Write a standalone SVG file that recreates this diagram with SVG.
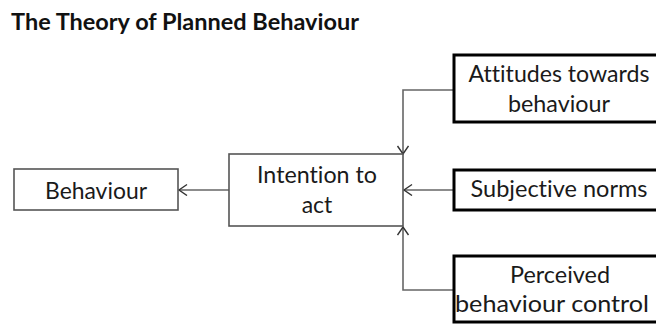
<svg xmlns="http://www.w3.org/2000/svg" width="656" height="326" viewBox="0 0 656 326">
<defs>
<style>
text{font-family:Lato,"Open Sans","Liberation Sans",sans-serif;font-size:23px;fill:#1a1a1a;text-anchor:middle;font-variant-ligatures:none;font-feature-settings:"liga" 0,"clig" 0}
.title{font-weight:bold;text-anchor:start;fill:#111}
.thin{fill:#fff;stroke:#555;stroke-width:1.6}
.thick{fill:#fff;stroke:#000;stroke-width:3}
.conn{fill:none;stroke:#666;stroke-width:1.6}
</style>
<marker id="arr" markerUnits="userSpaceOnUse" markerWidth="12" markerHeight="14" refX="9" refY="6" orient="auto">
<path d="M1,0.5 L9,6 L1,11.5" fill="none" stroke="#333" stroke-width="1.4"/>
</marker>
</defs>
<rect width="656" height="326" fill="#fff"/>
<text class="title" x="11" y="30" textLength="348" lengthAdjust="spacingAndGlyphs">The Theory of Planned Behaviour</text>
<g id="connectors">
<polyline class="conn" points="454,90 403,90 403,154" marker-end="url(#arr)"/>
<polyline class="conn" points="454,190 404,190" marker-end="url(#arr)"/>
<polyline class="conn" points="454,290 403,290 403,227" marker-end="url(#arr)"/>
<polyline class="conn" points="229,190 179,190" marker-end="url(#arr)"/>
</g>
<g id="behaviour">
<rect class="thin" x="14" y="169" width="164" height="41"/>
<text x="96" y="199" textLength="102" lengthAdjust="spacingAndGlyphs">Behaviour</text>
</g>
<g id="intention">
<rect class="thin" x="229" y="154" width="174" height="72"/>
<text x="317" y="183" textLength="120" lengthAdjust="spacingAndGlyphs">Intention to</text>
<text x="317" y="213">act</text>
</g>
<g id="attitudes">
<rect class="thick" x="454" y="55" width="214" height="67"/>
<text x="559" y="82" textLength="181" lengthAdjust="spacingAndGlyphs">Attitudes towards</text>
<text x="559" y="112" textLength="102" lengthAdjust="spacingAndGlyphs">behaviour</text>
</g>
<g id="norms">
<rect class="thick" x="454" y="170" width="214" height="40"/>
<text x="559" y="197" textLength="177" lengthAdjust="spacingAndGlyphs">Subjective norms</text>
</g>
<g id="perceived">
<rect class="thick" x="454" y="256" width="214" height="66"/>
<text x="560" y="283" textLength="100" lengthAdjust="spacingAndGlyphs">Perceived</text>
<text x="552" y="312" textLength="194" lengthAdjust="spacingAndGlyphs">behaviour control</text>
</g>
</svg>
